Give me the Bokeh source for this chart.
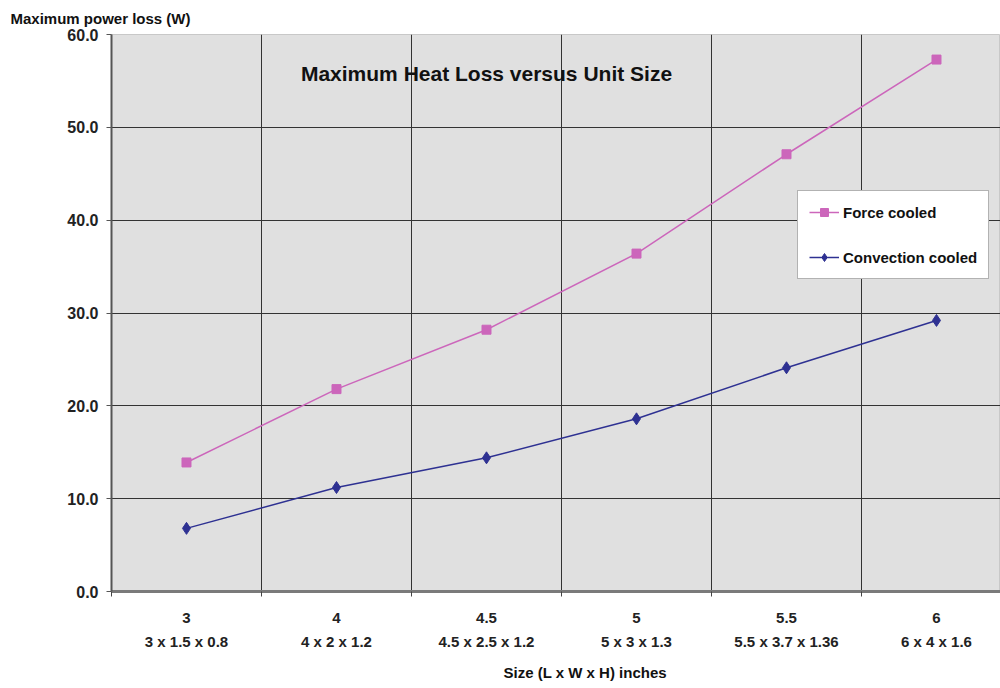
from bokeh.plotting import figure
from bokeh.models import Range1d, FixedTicker, Title, Label, Legend, LegendItem, NumeralTickFormatter
from bokeh.embed import file_html
from bokeh.resources import INLINE

sizes = ["3", "4", "4.5", "5", "5.5", "6"]
dims = ["3 x 1.5 x 0.8", "4 x 2 x 1.2", "4.5 x 2.5 x 1.2", "5 x 3 x 1.3", "5.5 x 3.7 x 1.36", "6 x 4 x 1.6"]
force_cooled = [13.9, 21.8, 28.2, 36.4, 47.1, 57.3]
convection_cooled = [6.8, 11.2, 14.4, 18.6, 24.1, 29.2]
y_ticks = [0, 10, 20, 30, 40, 50, 60]

FONT = "Liberation Sans"
pos = list(range(1, len(sizes) + 1))
bounds = [p_ - 0.5 for p_ in pos] + [pos[-1] + 0.5]

p = figure(width=1000, height=688, output_backend="svg", toolbar_location=None,
           x_range=Range1d(0.5, 6.4267), y_range=Range1d(0, 60),
           min_border_left=111, min_border_right=0, min_border_top=34, min_border_bottom=96)
p.background_fill_color = "#E0E0E0"
p.border_fill_color = "white"
p.outline_line_color = "#C8C8C8"

# y axis
p.yaxis.ticker = FixedTicker(ticks=y_ticks)
p.yaxis.formatter = NumeralTickFormatter(format="0.0")
p.yaxis.major_label_text_font = FONT
p.yaxis.major_label_text_font_style = "bold"
p.yaxis.major_label_text_font_size = "16px"
p.yaxis.major_label_text_color = "#222222"
p.yaxis.major_tick_out = 5
p.yaxis.major_tick_in = 0
p.yaxis.minor_tick_out = 0
p.yaxis.minor_tick_in = 0
p.yaxis.major_label_standoff = 8
p.yaxis.axis_line_color = "#555555"
p.yaxis.axis_line_width = 2
p.yaxis.major_tick_line_color = "#555555"

# x axis
p.xaxis.ticker = FixedTicker(ticks=pos, minor_ticks=bounds)
p.xaxis.major_label_overrides = {i: f"{s}\n{d}" for i, s, d in zip(pos, sizes, dims)}
p.xaxis.major_label_text_font = FONT
p.xaxis.major_label_text_font_style = "bold"
p.xaxis.major_label_text_font_size = "15px"
p.xaxis.major_label_text_color = "#222222"
p.xaxis.major_label_text_line_height = 1.45
p.xaxis.major_tick_out = 0
p.xaxis.major_tick_in = 0
p.xaxis.minor_tick_out = 5
p.xaxis.minor_tick_in = 0
p.xaxis.minor_tick_line_color = "#444444"
p.xaxis.major_label_standoff = 12
p.xaxis.axis_line_color = "#7A7A7A"
p.xaxis.axis_line_width = 3

# grid
p.xgrid.ticker = FixedTicker(ticks=bounds)
p.ygrid.ticker = FixedTicker(ticks=y_ticks)
for g in (p.xgrid, p.ygrid):
    g.grid_line_color = "#333333"
    g.grid_line_width = 1

# series
fc_line = p.line(pos, force_cooled, line_color="#CC66BB", line_width=1.5)
fc_pts = p.scatter(pos, force_cooled, marker="square", size=9, fill_color="#CC66BB", line_color="#CC66BB")
cc_line = p.line(pos, convection_cooled, line_color="#2E3192", line_width=1.5)
cc_pts = p.scatter(pos, convection_cooled, marker="diamond", size=12,
                   fill_color="#2E3192", line_color="#2E3192")

legend = Legend(items=[LegendItem(label="Force cooled", renderers=[fc_line, fc_pts]),
                       LegendItem(label="Convection cooled", renderers=[cc_line, cc_pts])],
                location=(686, 312), spacing=25, padding=11, glyph_width=30, label_standoff=4,
                label_text_font=FONT, label_text_font_style="bold", label_text_font_size="15px",
                label_text_color="#111111", background_fill_color="white", background_fill_alpha=1,
                border_line_color="#666666", border_line_width=1, margin=0)
p.add_layout(legend, "center")

# chart title inside the plot area
p.add_layout(Label(x=3, y=55.8, text="Maximum Heat Loss versus Unit Size", text_align="center",
                   text_baseline="middle", text_font=FONT, text_font_style="bold",
                   text_font_size="21px", text_color="#111111"))

# y axis label (horizontal, top-left)
p.add_layout(Title(text="Maximum power loss (W)", align="left", offset=-101, vertical_align="top",
                   text_font=FONT, text_font_style="bold", text_font_size="15px",
                   text_color="#111111", standoff=12), "above")

# x axis label
p.add_layout(Title(text="Size (L x W x H) inches", align="left", offset=392, text_font=FONT,
                   text_font_style="bold", text_font_size="15px", text_color="#111111",
                   standoff=16), "below")

open("out.html", "w").write(file_html(p, INLINE))
